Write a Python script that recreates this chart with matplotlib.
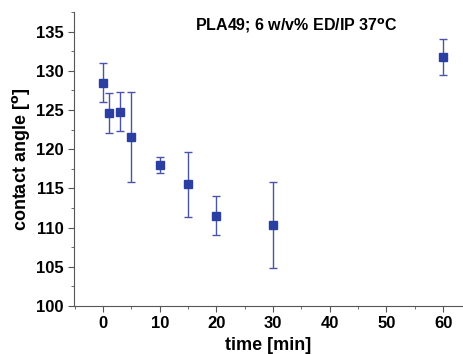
import matplotlib
matplotlib.use('Agg')
import matplotlib.pyplot as plt
from matplotlib.ticker import MultipleLocator

plt.rcParams['font.family'] = ['Liberation Sans', 'DejaVu Sans']

# contact angle vs. time
time_min = [0, 1, 3, 5, 10, 15, 20, 30, 60]
angle = [128.5, 124.6, 124.8, 121.5, 118.0, 115.5, 111.5, 110.3, 131.8]
err = [2.5, 2.55, 2.5, 5.75, 1.05, 4.2, 2.5, 5.5, 2.3]

fig = plt.figure(figsize=(4.63, 3.54), dpi=100)
ax = fig.add_axes([0.16, 0.136, 0.84, 0.83])

ax.errorbar(time_min, angle, yerr=err, fmt='s', color='#2b3fa3', ms=6,
            ecolor='#4a55a8', elinewidth=1, capsize=3, capthick=1)

ax.set_xlim(-5.1, 63.5)
ax.set_ylim(100, 137.5)
ax.xaxis.set_major_locator(MultipleLocator(10))
ax.xaxis.set_minor_locator(MultipleLocator(5))
ax.yaxis.set_major_locator(MultipleLocator(5))
ax.yaxis.set_minor_locator(MultipleLocator(2.5))

for s in ['top', 'right']:
    ax.spines[s].set_visible(False)
for s in ['left', 'bottom']:
    ax.spines[s].set_color('#555555')
ax.tick_params(which='major', direction='out', length=4, color='#555555',
               labelsize=12)
ax.tick_params(which='minor', direction='out', length=2.5, color='#555555')
for lab in ax.get_xticklabels() + ax.get_yticklabels():
    lab.set_fontweight('bold')

ax.set_xlabel('time [min]', fontsize=13, fontweight='bold', labelpad=4)
ax.set_ylabel('contact angle [$^{\\mathbf{o}}$]', fontsize=13,
              fontweight='bold', labelpad=3)
ax.text(0.571, 0.955, 'PLA49; 6 w/v% ED/IP 37$^{\\mathbf{o}}$C', transform=ax.transAxes,
        ha='center', va='center', fontsize=11.5, fontweight='bold')

fig.savefig('out.png', dpi=100)
